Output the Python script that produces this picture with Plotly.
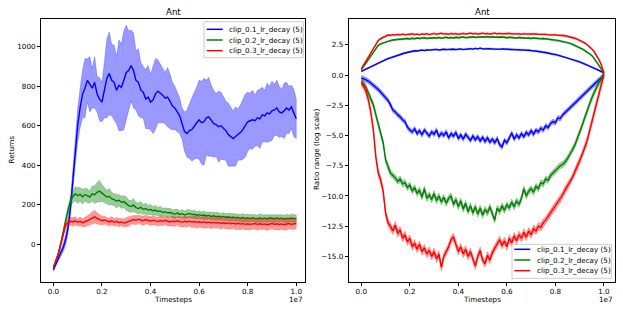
import numpy as np
import plotly.graph_objects as go

# ---------------- data ----------------
TIMESTEPS = np.linspace(0, 1e7, 101)
SERIES = ["clip_0.1_lr_decay (5)", "clip_0.2_lr_decay (5)", "clip_0.3_lr_decay (5)"]
X_TICKS = [0, 2e6, 4e6, 6e6, 8e6, 1e7]
X_TICK_LABELS = ["0.0", "0.2", "0.4", "0.6", "0.8", "1.0"]
RET_TICKS = [0, 200, 400, 600, 800, 1000]
RATIO_TICKS = [-15.0, -12.5, -10.0, -7.5, -5.0, -2.5, 0.0, 2.5]
RATIO_TICK_LABELS = ["\u221215.0", "\u221212.5", "\u221210.0", "\u22127.5", "\u22125.0", "\u22122.5", "0.0", "2.5"]

# Left panel: returns (mean) and band half-widths
BLUE_RET = [
    -130, -100, -70, -45, -20, 20, 80, 180, 320, 470,
    600, 690, 760, 790, 830, 810, 790, 820, 760, 735,
    720, 780, 840, 865, 830, 820, 780, 805, 795, 830,
    870, 880, 905, 880, 830, 820, 780, 770, 735, 745,
    720, 730, 760, 775, 765, 755, 740, 745, 725, 700,
    690, 670, 650, 610, 570, 560, 575, 580, 600, 615,
    630, 615, 620, 640, 645, 625, 610, 605, 595, 600,
    588, 575, 555, 545, 535, 545, 555, 565, 580, 600,
    620, 625, 630, 625, 640, 635, 655, 650, 665, 660,
    675, 680, 690, 670, 665, 675, 690, 680, 695, 665,
    635]
GREEN_RET = [
    -120, -85, -50, 0, 50, 115, 170, 215, 240, 255,
    245, 252, 240, 250, 245, 238, 255, 250, 262, 268,
    258, 248, 238, 242, 230, 225, 218, 222, 212, 215,
    205, 195, 190, 198, 185, 180, 186, 176, 180, 172,
    175, 168, 172, 165, 168, 160, 163, 158, 160, 155,
    152, 157, 150, 154, 148, 152, 155, 149, 151, 146,
    149, 145, 147, 142, 145, 140, 143, 139, 141, 137,
    140, 136, 138, 134, 137, 133, 135, 131, 134, 130,
    132, 129, 133, 130, 128, 132, 129, 131, 128, 133,
    130, 128, 132, 129, 131, 127, 130, 128, 132, 129,
    130]
RED_RET = [
    -120, -88, -52, -5, 45, 95, 110, 115, 112, 118,
    110, 115, 108, 112, 118, 125, 132, 138, 130, 125,
    118, 122, 115, 112, 118, 110, 114, 108, 112, 106,
    110, 115, 120, 124, 120, 126, 122, 118, 124, 120,
    116, 121, 118, 114, 119, 115, 120, 116, 112, 117,
    113, 118, 114, 110, 115, 112, 116, 111, 114, 110,
    113, 109, 112, 108, 111, 107, 110, 106, 109, 105,
    108, 104, 107, 103, 106, 102, 105, 101, 104, 100,
    103, 99, 102, 104, 100, 103, 99, 102, 98, 101,
    104, 100, 103, 99, 102, 98, 101, 104, 100, 102,
    104]
BLUE_RET_BAND = [
    10, 12, 15, 18, 20, 25, 30, 40, 55, 70,
    85, 100, 120, 150, 110, 140, 100, 130, 90, 110,
    100, 140, 200, 210, 180, 190, 170, 230, 220, 250,
    240, 200, 180, 190, 150, 170, 140, 130, 150, 160,
    140, 170, 180, 160, 150, 140, 130, 150, 140, 120,
    110, 100, 90, 80, 100, 120, 140, 160, 170, 180,
    200, 210, 220, 190, 200, 180, 170, 160, 180, 170,
    160, 150, 160, 150, 140, 150, 130, 140, 150, 160,
    150, 140, 150, 130, 140, 150, 140, 130, 150, 140,
    150, 130, 140, 130, 120, 140, 130, 120, 110, 120,
    100]
GREEN_RET_BAND = [
    5, 6, 8, 10, 12, 15, 20, 25, 30, 35,
    40, 35, 38, 32, 36, 30, 38, 45, 50, 55,
    42, 38, 35, 40, 32, 30, 35, 28, 32, 30,
    35, 28, 30, 33, 26, 28, 30, 25, 28, 24,
    26, 22, 25, 20, 24, 22, 20, 23, 21, 19,
    22, 20, 18, 21, 19, 22, 20, 18, 21, 19,
    20, 18, 21, 19, 17, 20, 18, 21, 19, 17,
    20, 18, 19, 21, 18, 20, 17, 19, 21, 18,
    20, 19, 17, 20, 18, 21, 19, 17, 20, 18,
    19, 21, 18, 20, 17, 19, 21, 18, 20, 19,
    18]
RED_RET_BAND = [
    5, 6, 8, 10, 12, 15, 18, 20, 22, 20,
    18, 22, 20, 24, 22, 26, 30, 32, 28, 24,
    22, 20, 18, 20, 22, 18, 20, 22, 18, 20,
    22, 24, 20, 22, 24, 20, 22, 24, 22, 20,
    22, 24, 20, 22, 24, 22, 20, 24, 22, 26,
    24, 22, 26, 24, 28, 26, 24, 28, 26, 30,
    28, 26, 30, 28, 26, 30, 28, 26, 28, 30,
    26, 28, 30, 28, 26, 28, 30, 28, 26, 28,
    30, 28, 26, 28, 30, 28, 26, 28, 30, 28,
    26, 28, 30, 28, 26, 28, 30, 28, 26, 28,
    26]

# Right panel: log ratio range, upper and lower curves
BLUE_UP = [
    0.30, 0.40, 0.52, 0.62, 0.72, 0.82, 0.92, 1.00, 1.10, 1.20,
    1.28, 1.36, 1.42, 1.50, 1.56, 1.62, 1.70, 1.76, 1.82, 1.88,
    1.94, 1.98, 2.00, 1.98, 2.04, 2.06, 2.02, 2.08, 2.06, 2.10,
    2.08, 2.12, 2.06, 2.10, 2.14, 2.10, 2.12, 2.08, 2.14, 2.10,
    2.12, 2.16, 2.10, 2.14, 2.12, 2.18, 2.14, 2.20, 2.16, 2.22,
    2.16, 2.18, 2.14, 2.18, 2.16, 2.14, 2.18, 2.12, 2.16, 2.14,
    2.12, 2.14, 2.10, 2.12, 2.08, 2.10, 2.06, 2.08, 2.04, 2.06,
    2.02, 1.98, 2.00, 1.94, 1.92, 1.88, 1.86, 1.80, 1.78, 1.72,
    1.70, 1.64, 1.60, 1.54, 1.50, 1.44, 1.38, 1.32, 1.24, 1.16,
    1.08, 1.00, 0.92, 0.84, 0.76, 0.66, 0.58, 0.48, 0.38, 0.28,
    0.17]
GREEN_UP = [
    0.45, 0.70, 1.00, 1.30, 1.60, 1.90, 2.20, 2.45, 2.58, 2.66,
    2.74, 2.80, 2.84, 2.90, 2.92, 2.96, 2.94, 3.00, 2.98, 3.02,
    2.98, 3.04, 3.00, 3.06, 3.02, 3.04, 3.08, 3.02, 3.06, 3.04,
    3.08, 3.06, 3.10, 3.04, 3.08, 3.12, 3.06, 3.10, 3.06, 3.12,
    3.08, 3.10, 3.14, 3.08, 3.12, 3.10, 3.16, 3.10, 3.14, 3.12,
    3.16, 3.12, 3.18, 3.12, 3.16, 3.12, 3.14, 3.10, 3.14, 3.12,
    3.08, 3.12, 3.08, 3.10, 3.06, 3.10, 3.06, 3.08, 3.04, 3.06,
    3.02, 3.06, 3.02, 3.04, 3.00, 3.02, 2.98, 2.96, 2.94, 2.92,
    2.88, 2.86, 2.82, 2.78, 2.72, 2.68, 2.62, 2.54, 2.46, 2.36,
    2.26, 2.16, 2.04, 1.92, 1.78, 1.62, 1.36, 1.05, 0.75, 0.45,
    0.20]
RED_UP = [
    0.50, 0.85, 1.20, 1.55, 1.90, 2.25, 2.60, 2.85, 3.00, 3.12,
    3.22, 3.30, 3.28, 3.34, 3.30, 3.36, 3.32, 3.38, 3.32, 3.36,
    3.34, 3.40, 3.34, 3.38, 3.32, 3.40, 3.36, 3.42, 3.34, 3.38,
    3.44, 3.36, 3.40, 3.46, 3.38, 3.42, 3.36, 3.44, 3.38, 3.42,
    3.36, 3.40, 3.44, 3.38, 3.42, 3.46, 3.40, 3.44, 3.38, 3.42,
    3.46, 3.40, 3.44, 3.38, 3.42, 3.46, 3.40, 3.44, 3.40, 3.42,
    3.38, 3.44, 3.40, 3.42, 3.38, 3.40, 3.36, 3.42, 3.38, 3.40,
    3.36, 3.44, 3.40, 3.36, 3.38, 3.34, 3.36, 3.32, 3.34, 3.30,
    3.32, 3.28, 3.30, 3.26, 3.24, 3.20, 3.16, 3.10, 3.04, 2.96,
    2.88, 2.78, 2.66, 2.52, 2.36, 2.16, 1.92, 1.62, 1.26, 0.80,
    0.20]
BLUE_LO = [
    -0.25, -0.30, -0.40, -0.52, -0.68, -0.85, -1.02, -1.20, -1.42, -1.62,
    -1.90, -2.10, -2.45, -2.90, -3.05, -3.30, -3.45, -3.70, -3.85, -4.30,
    -4.55, -4.70, -4.45, -4.85, -4.60, -4.95, -4.55, -4.80, -5.05, -4.70,
    -4.90, -4.55, -5.10, -4.80, -5.00, -4.70, -5.20, -4.85, -5.05, -4.75,
    -5.25, -4.95, -5.30, -4.90, -5.15, -5.40, -5.05, -5.35, -5.10, -5.45,
    -5.15, -5.50, -5.20, -5.55, -5.30, -5.60, -5.25, -5.75, -5.95, -5.40,
    -5.60, -5.20, -4.80, -5.30, -4.95, -5.20, -4.85, -5.10, -4.75, -4.95,
    -4.60, -4.90, -4.55, -4.70, -4.40, -4.55, -4.20, -4.35, -4.00, -3.85,
    -3.95, -3.55, -3.60, -3.30, -3.10, -2.95, -2.75, -2.55, -2.35, -2.10,
    -1.95, -1.75, -1.55, -1.35, -1.15, -0.95, -0.75, -0.58, -0.40, -0.22,
    -0.05]
GREEN_LO = [
    -0.55, -0.75, -1.05, -1.50, -2.00, -2.50, -3.30, -4.10, -4.90, -5.60,
    -7.00, -7.60, -8.10, -8.30, -8.50, -8.80, -8.60, -9.00, -8.90, -9.30,
    -9.10, -9.60, -9.30, -9.80, -9.50, -10.10, -9.40, -10.20, -9.90, -10.30,
    -9.80, -10.40, -10.00, -10.50, -10.10, -10.60, -10.20, -10.00, -10.70, -10.30,
    -10.90, -10.40, -11.10, -10.60, -11.30, -10.80, -11.40, -10.90, -11.50, -11.00,
    -11.60, -11.10, -11.40, -10.90, -11.50, -12.00, -11.00, -11.30, -10.80, -11.20,
    -10.70, -11.00, -10.50, -10.90, -10.40, -10.70, -10.20, -9.40, -10.00, -9.60,
    -9.40, -9.70, -9.20, -9.40, -8.90, -9.00, -8.60, -8.70, -8.30, -8.10,
    -7.90, -7.70, -7.50, -7.40, -7.20, -6.90, -6.60, -6.20, -5.80, -5.30,
    -4.80, -4.20, -3.60, -3.00, -2.40, -1.90, -1.45, -1.00, -0.60, -0.30,
    0.05]
RED_LO = [
    -0.70, -0.90, -1.40, -2.10, -3.20, -4.60, -6.80, -8.10, -8.70, -9.60,
    -11.40, -12.20, -12.50, -12.90, -12.40, -13.10, -12.80, -13.50, -13.20, -13.80,
    -13.50, -14.20, -13.90, -14.40, -14.00, -14.60, -14.30, -14.80, -14.50, -15.00,
    -14.60, -15.20, -14.80, -15.90, -15.00, -14.60, -14.20, -13.60, -13.40, -14.00,
    -14.60, -14.20, -14.80, -14.40, -15.00, -14.60, -15.20, -15.80, -15.00, -14.50,
    -15.30, -15.60, -14.90, -15.30, -14.70, -14.30, -13.90, -13.60, -14.10, -13.70,
    -14.20, -13.50, -13.90, -13.30, -13.70, -13.20, -13.50, -13.00, -13.40, -12.90,
    -13.20, -12.70, -12.90, -12.50, -12.60, -12.20, -12.00, -11.70, -11.40, -11.10,
    -10.90, -10.50, -10.30, -9.90, -9.50, -9.20, -8.90, -8.50, -8.00, -7.60,
    -7.10, -6.60, -6.00, -5.50, -4.70, -3.90, -3.10, -2.30, -1.50, -0.70,
    0.05]
UP_BAND = [0.06, 0.06, 0.06]
LO_BAND = [0.20, 0.25, 0.30]

# ---------------- style ----------------
W, H = 623, 312
COLORS = ["#0000ff", "#008000", "#ff0000"]
FILLS = ["rgba(0,0,255,0.4)", "rgba(0,128,0,0.4)", "rgba(255,0,0,0.4)"]
FONT = "DejaVu Sans, Arial, sans-serif"
FS = 7.2


def fx(p):
    return p / W


def fy(p):
    return 1 - p / H


x = np.asarray(TIMESTEPS)
fig = go.Figure()


def add_band(mean, hw, i, xa, ya):
    m = np.asarray(mean, dtype=float)
    h = np.asarray(hw, dtype=float) * np.ones_like(m)
    fig.add_trace(go.Scatter(
        x=np.concatenate([x, x[::-1]]),
        y=np.concatenate([m + h, (m - h)[::-1]]),
        fill="toself", fillcolor=FILLS[i], mode="lines",
        line=dict(color=FILLS[i], width=0.6),
        showlegend=False, hoverinfo="skip", xaxis=xa, yaxis=ya))


def add_line(mean, i, xa, ya):
    fig.add_trace(go.Scatter(
        x=x, y=mean, mode="lines", name=SERIES[i],
        line=dict(color=COLORS[i], width=1.4),
        showlegend=False, xaxis=xa, yaxis=ya))


ret_means = [BLUE_RET, GREEN_RET, RED_RET]
ret_bands = [BLUE_RET_BAND, GREEN_RET_BAND, RED_RET_BAND]
for i in range(3):
    add_band(ret_means[i], ret_bands[i], i, "x", "y")
    add_line(ret_means[i], i, "x", "y")

ups = [BLUE_UP, GREEN_UP, RED_UP]
los = [BLUE_LO, GREEN_LO, RED_LO]
for i in range(3):
    add_band(ups[i], UP_BAND[i], i, "x2", "y2")
    add_line(ups[i], i, "x2", "y2")
    add_band(los[i], LO_BAND[i], i, "x2", "y2")
    add_line(los[i], i, "x2", "y2")

axis_common = dict(
    showline=True, linecolor="black", linewidth=1, mirror=True,
    ticks="outside", ticklen=3, tickwidth=1, tickcolor="black",
    showgrid=False, zeroline=False, automargin=False,
    tickfont=dict(family=FONT, size=FS, color="black"),
)

L_X = (41, 305)
R_X = (348.7, 615.3)
Y_PIX = (19, 281.5)

fig.update_layout(
    width=W, height=H,
    margin=dict(l=0, r=0, t=0, b=0, autoexpand=False),
    paper_bgcolor="white", plot_bgcolor="white",
    showlegend=False,
    font=dict(family=FONT, size=FS, color="black"),
    xaxis=dict(domain=[fx(L_X[0]), fx(L_X[1])], range=[-0.051e7, 1.036e7],
               tickvals=X_TICKS, ticktext=X_TICK_LABELS, anchor="y", **axis_common),
    yaxis=dict(domain=[fy(Y_PIX[1]), fy(Y_PIX[0])], range=[-190, 1141],
               tickvals=RET_TICKS, anchor="x", **axis_common),
    xaxis2=dict(domain=[fx(R_X[0]), fx(R_X[1])], range=[-0.052e7, 1.047e7],
                tickvals=X_TICKS, ticktext=X_TICK_LABELS, anchor="y2", **axis_common),
    yaxis2=dict(domain=[fy(Y_PIX[1]), fy(Y_PIX[0])], range=[-17.07, 4.63],
                tickvals=RATIO_TICKS, ticktext=RATIO_TICK_LABELS, anchor="x2", **axis_common),
)

ann = []
shapes = []
tfont = dict(family=FONT, size=8.6, color="black")
lfont = dict(family=FONT, size=FS, color="black")
for (a, b) in (L_X, R_X):
    cx = fx((a + b) / 2)
    ann.append(dict(text="Ant", x=cx, y=fy(12), xref="paper", yref="paper",
                    showarrow=False, font=tfont, xanchor="center", yanchor="middle"))
    ann.append(dict(text="Timesteps", x=cx, y=fy(299), xref="paper", yref="paper",
                    showarrow=False, font=lfont, xanchor="center", yanchor="middle"))
    ann.append(dict(text="1e7", x=fx(b), y=fy(299), xref="paper", yref="paper",
                    showarrow=False, font=lfont, xanchor="right", yanchor="middle"))
ann.append(dict(text="Returns", x=fx(10.5), y=fy(150), xref="paper", yref="paper",
                showarrow=False, font=lfont, textangle=-90, xanchor="center", yanchor="middle"))
ann.append(dict(text="Ratio range (log scale)", x=fx(316), y=fy(150), xref="paper", yref="paper",
                showarrow=False, font=lfont, textangle=-90, xanchor="center", yanchor="middle"))

# Legend boxes (drawn as layout shapes and text, matplotlib style)
LEGENDS = [
    dict(box=(204, 21.7, 303.3, 57.7), rows=(29.3, 40.0, 50.7), line=(206.7, 222.7), text_x=226.7),
    dict(box=(512, 244.3, 611.3, 278.3), rows=(249.3, 260.0, 270.7), line=(514.3, 530.3), text_x=534.7),
]
for lg in LEGENDS:
    x0, y0, x1, y1 = lg["box"]
    shapes.append(dict(type="rect", xref="paper", yref="paper",
                       x0=fx(x0), x1=fx(x1), y0=fy(y1), y1=fy(y0),
                       line=dict(color="#cccccc", width=1), fillcolor="rgba(255,255,255,0.8)",
                       layer="above"))
    for i, ry in enumerate(lg["rows"]):
        shapes.append(dict(type="line", xref="paper", yref="paper",
                           x0=fx(lg["line"][0]), x1=fx(lg["line"][1]), y0=fy(ry), y1=fy(ry),
                           line=dict(color=COLORS[i], width=1.5), layer="above"))
        ann.append(dict(text=SERIES[i], x=fx(lg["text_x"]), y=fy(ry), xref="paper", yref="paper",
                        showarrow=False, font=lfont, xanchor="left", yanchor="middle"))

fig.update_layout(annotations=ann, shapes=shapes)

fig.write_html("out.html", config={"displayModeBar": False},
               post_script="document.body.style.margin='0';document.body.style.overflow='hidden';")
